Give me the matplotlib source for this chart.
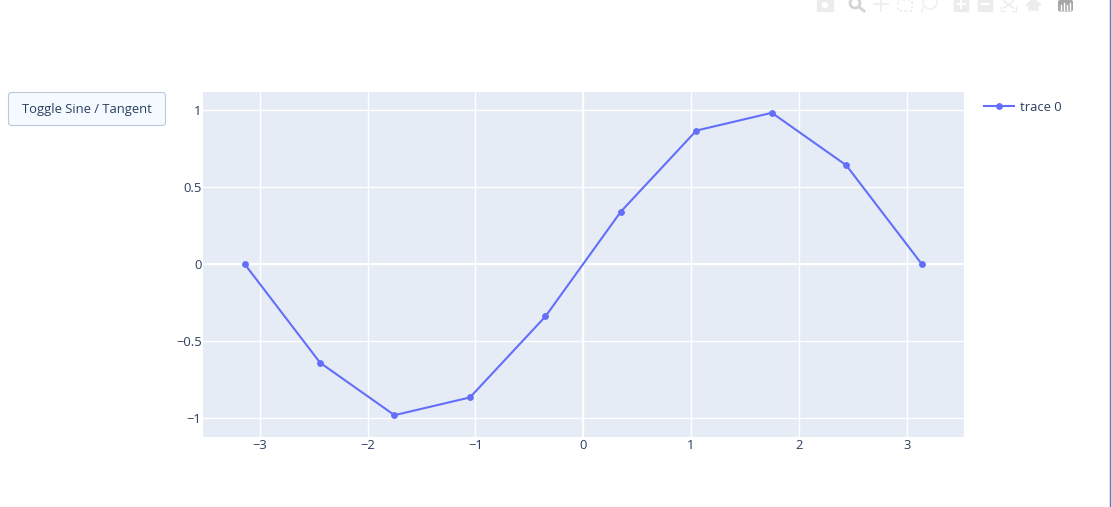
from matplotlib import pyplot as plt
from matplotlib.patches import FancyBboxPatch, Rectangle, Circle, Polygon
import numpy as np

plt.rcParams['font.family'] = ['Open Sans', 'DejaVu Sans']

x = [-3.14, -2.44, -1.75, -1.05, -0.35, 0.35, 1.05, 1.75, 2.44, 3.14]
y = [0, -0.64, -0.98, -0.865, -0.34, 0.34, 0.865, 0.98, 0.64, 0]
xticks = [-3, -2, -1, 0, 1, 2, 3]
yticks = [-1, -0.5, 0, 0.5, 1]
ylabels = ['\u22121', '\u22120.5', '0', '0.5', '1']
xlabels = ['\u22123', '\u22122', '\u22121', '0', '1', '2', '3']

W, H = 1111, 507
INK = '#2a3f5f'
BLUE = '#636efa'
GREY = '#ececec'
FS = 9.4

fig = plt.figure(figsize=(W / 100, H / 100), dpi=100, facecolor='white')

# plot area, pixel box 203..964 x 92..437
ax = fig.add_axes([203 / W, 1 - 437 / H, 761 / W, 345 / H], facecolor='#e5ecf6')
ax.set_xlim(-3.526, 3.532)
ax.set_ylim(-1.1215, 1.115)
for s in ax.spines.values():
    s.set_visible(False)
ax.set_xticks(xticks)
ax.set_xticklabels(xlabels)
ax.set_yticks(yticks)
ax.set_yticklabels(ylabels)
ax.tick_params(length=0, labelsize=FS, labelcolor=INK)
ax.tick_params(axis='x', pad=1.5)
ax.tick_params(axis='y', pad=1)
ax.grid(color='white', linewidth=1)
ax.set_axisbelow(True)
ax.axvline(0, color='white', linewidth=1.5, zorder=1)
ax.axhline(0, color='white', linewidth=1.5, zorder=1)
ax.plot(x, y, color=BLUE, linewidth=1.5, marker='o', markersize=3.9, zorder=3)

# overlay in screen pixels for the button, legend and toolbar
ov = fig.add_axes([0, 0, 1, 1], facecolor='none')
ov.set_xlim(0, W)
ov.set_ylim(H, 0)
ov.axis('off')

ov.add_patch(FancyBboxPatch((8.5, 92.5), 157, 33, boxstyle='round,pad=0,rounding_size=3',
                            facecolor='#f4faff', edgecolor='#bec8d9', linewidth=0.8))
ov.text(87, 109.5, 'Toggle Sine / Tangent', ha='center', va='center', fontsize=FS, color=INK)

ov.plot([984, 1014], [106, 106], color=BLUE, linewidth=1.5)
ov.plot([999], [106], color=BLUE, marker='o', markersize=3.9)
ov.text(1019.5, 107.5, 'trace 0', ha='left', va='center', fontsize=FS, color=INK)

# toolbar icons (cut off by the top edge)
ov.add_patch(Rectangle((817, 0), 16, 10.5, color=GREY))
ov.add_patch(Circle((825, 5), 2.5, color='white'))
ov.add_patch(Circle((855, 3), 5, facecolor='white', edgecolor='#d4d4d4', linewidth=2))
ov.plot([859, 864], [7, 11], color='#d4d4d4', linewidth=2)
ov.plot([874, 888], [4, 4], color=GREY, linewidth=1.2)
ov.plot([881, 881], [0, 11], color=GREY, linewidth=1.2)
ov.add_patch(Rectangle((898, 0), 14, 11, facecolor='none', edgecolor=GREY, linewidth=1.2, linestyle=(0, (1.5, 1.5))))
ov.add_patch(Circle((930, 2), 7, facecolor='none', edgecolor='#f0f0f0', linewidth=1.1))
ov.plot([923, 922], [7, 12], color='#f0f0f0', linewidth=1.1)
ov.add_patch(Rectangle((954, 0), 14, 11, color=GREY))
ov.plot([957, 965], [4, 4], color='white', linewidth=1.5)
ov.plot([961, 961], [0, 8], color='white', linewidth=1.5)
ov.add_patch(Rectangle((978, 0), 14, 11, color=GREY))
ov.plot([981, 989], [4, 4], color='white', linewidth=1.5)
# autoscale: small cross and corner brackets
ov.plot([1004, 1013], [1, 8], color=GREY, linewidth=1.1)
ov.plot([1013, 1004], [1, 8], color=GREY, linewidth=1.1)
ov.plot([1001, 1001, 1005], [7, 11, 11], color=GREY, linewidth=0.8)
ov.plot([1016, 1016, 1012], [7, 11, 11], color=GREY, linewidth=0.8)
ov.add_patch(Polygon([[1026, 5], [1033.5, -1], [1041, 5], [1038, 5], [1038, 10], [1029, 10], [1029, 5]], color=GREY))
ov.add_patch(FancyBboxPatch((1058, 0), 15, 11.5, boxstyle='round,pad=0,rounding_size=2',
                            facecolor='#a6a6a6', edgecolor='none'))
ov.plot([1061, 1061, np.nan, 1064, 1064, np.nan, 1067, 1067, np.nan, 1070, 1070],
        [5, 10, np.nan, 3, 10, np.nan, 5, 10, np.nan, 3, 10], color='white', linewidth=1)

# page edge on the right
ov.plot([1109.5, 1109.5], [0, H], color='#3d85c6', linewidth=1)

fig.savefig('out.png', dpi=100)
